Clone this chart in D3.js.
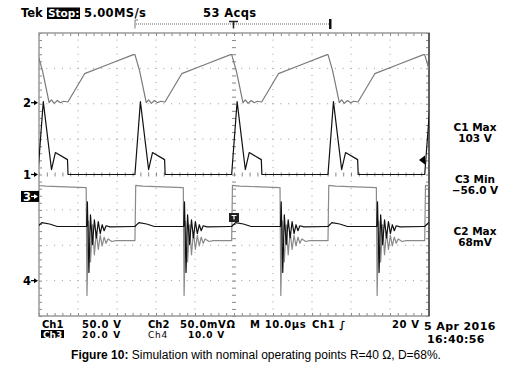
<!DOCTYPE html>
<html>
<head>
<meta charset="utf-8">
<script src="https://cdn.jsdelivr.net/npm/d3@7"></script>
<style>
  body { margin: 0; background: #fff; }
  svg { display: block; }
  .scope { font-family: "DejaVu Sans", sans-serif; font-weight: bold; }
</style>
</head>
<body>
<div id="chart"></div>
<script>
// horizontal: 10 div x 10 us
var timeDomain = [0, 100];
// rising edge of each switching cycle (us)
var cycleStarts = [-0.3, 24.6, 49.4, 74.1, 98.9];

// one cycle of each channel: [us after rising edge, value]
var ch1Cycle = [[0, 0], [1.4, 103], [3.5, 7], [4.5, 31], [7.6, 21], [7.75, 0], [24.5, 0]];            // V
var ch2Cycle = [[0, 68], [1.2, 45], [2.9, 0], [3.5, 4], [4.2, -1], [5.0, 3], [5.8, 0], [6.6, 2],
                [7.7, 1], [12, 41], [18, 54], [24.5, 68]];                                              // mV
var ch3Cycle = [[0, -25], [0.2, 6.2], [2, 5.8], [12.4, 5.0], [12.6, -56], [13.0, -14], [13.5, -37],
                [14.0, -16], [14.5, -33], [15.0, -20], [15.5, -30], [16.0, -22], [16.5, -28],
                [17.0, -23], [17.5, -26.5], [18.0, -24], [19.0, -25.5], [20.0, -25], [24.5, -25]];     // V
var ch4Cycle = [[0, 15.3], [1, 16.4], [3, 16.0], [5, 15.3], [12.5, 15.3], [12.7, 22.3], [13.1, 2.3],
                [13.5, 18.6], [14.0, 10.2], [14.5, 17.2], [15.0, 12.1], [15.5, 16.7], [16.0, 13.3],
                [16.5, 15.8], [17.0, 14.1], [17.5, 15.5], [18.5, 15.2], [24.5, 15.3]];                 // V

// volts (or mV) per division and ground marker position in divisions
var channelNames = ["Ch1", "Ch2", "Ch3", "Ch4"];
var channelScales = [50, 50, 20, 10];
var channelOffsets = [0, 2.03, -0.62, -3.0];

var topTexts = ["Tek", "Stop:", "5.00MS/s", "53 Acqs"];
var readouts = [["C1 Max", "103 V"], ["C3 Min", "\u221256.0 V"], ["C2 Max", "68mV"]];
var dateTexts = ["5 Apr 2016", "16:40:56"];

var W = 531, H = 373;
var svg = d3.select("#chart").append("svg").attr("width", W).attr("height", H);

var scrL = 39, scrR = 429, scrT = 33, scrB = 316;
var x = d3.scaleLinear().domain(timeDomain).range([scrL, scrR]);
var xDiv = d3.scaleLinear().domain([0, 10]).range([scrL, scrR]);
var yDiv = d3.scaleLinear().domain([-4, 4]).range([scrB, scrT]);

// ---- graticule
var grid = svg.append("g");
var minorX = d3.range(0, 10.001, 0.2), minorY = d3.range(-4, 4.001, 0.2);
[1, 2, 3, 4, 6, 7, 8, 9].forEach(function(i) {
  grid.selectAll(null).data(minorY).enter().append("rect")
    .attr("x", xDiv(i) - 0.5).attr("y", function(d) { return yDiv(d) - 0.5; })
    .attr("width", 1).attr("height", 1).attr("fill", "#9a9a9a");
});
[-3, -2, -1, 1, 2, 3].forEach(function(j) {
  grid.selectAll(null).data(minorX).enter().append("rect")
    .attr("x", function(d) { return xDiv(d) - 0.5; }).attr("y", yDiv(j) - 0.5)
    .attr("width", 1).attr("height", 1).attr("fill", "#9a9a9a");
});

function noDomain(g) { g.select(".domain").remove(); g.selectAll("line").attr("stroke", "#888"); }
// ticks along border and centre axes
grid.append("g").attr("transform", "translate(0," + scrT + ")")
  .call(d3.axisBottom(xDiv).tickValues(minorX).tickSize(3).tickFormat("")).call(noDomain);
grid.append("g").attr("transform", "translate(0," + scrB + ")")
  .call(d3.axisTop(xDiv).tickValues(minorX).tickSize(3).tickFormat("")).call(noDomain);
grid.append("g").attr("transform", "translate(" + scrL + ",0)")
  .call(d3.axisRight(yDiv).tickValues(minorY).tickSize(3).tickFormat("")).call(noDomain);
grid.append("g").attr("transform", "translate(" + scrR + ",0)")
  .call(d3.axisLeft(yDiv).tickValues(minorY).tickSize(3).tickFormat("")).call(noDomain);
grid.append("g").attr("transform", "translate(0," + (yDiv(0) - 2) + ")")
  .call(d3.axisBottom(xDiv).tickValues(minorX).tickSize(4).tickFormat("")).call(noDomain);
grid.append("g").attr("transform", "translate(" + (xDiv(5) - 2) + ",0)")
  .call(d3.axisRight(yDiv).tickValues(minorY).tickSize(4).tickFormat("")).call(noDomain);

grid.append("rect").attr("x", scrL).attr("y", scrT).attr("width", scrR - scrL).attr("height", scrB - scrT)
  .attr("fill", "none").attr("stroke", "#999").attr("stroke-width", 1.5);
grid.append("line").attr("x1", scrR).attr("x2", scrR).attr("y1", scrT).attr("y2", scrB)
  .attr("stroke", "#444").attr("stroke-width", 1.5);

// ---- traces
svg.append("clipPath").attr("id", "screen").append("rect")
  .attr("x", scrL).attr("y", scrT).attr("width", scrR - scrL).attr("height", scrB - scrT);

function buildTrace(cycle) {
  var pts = [];
  cycleStarts.forEach(function(s, i) {
    var next = i + 1 < cycleStarts.length ? cycleStarts[i + 1] : Infinity;
    cycle.forEach(function(p) {
      if (s + p[0] < next) pts.push([s + p[0], p[1]]);
    });
  });
  return pts;
}

var traceColors = ["#111", "#7a7a7a", "#8a8a8a", "#111"];
var cycles = [ch1Cycle, ch2Cycle, ch3Cycle, ch4Cycle];
var drawOrder = [1, 2, 3, 0];
var traces = svg.append("g").attr("clip-path", "url(#screen)");
drawOrder.forEach(function(c) {
  var line = d3.line()
    .x(function(d) { return x(d[0]); })
    .y(function(d) { return yDiv(channelOffsets[c] + d[1] / channelScales[c]); });
  traces.append("path").datum(buildTrace(cycles[c]))
    .attr("d", line).attr("fill", "none")
    .attr("stroke", traceColors[c]).attr("stroke-width", 1.2).attr("stroke-linejoin", "round");
});

// ---- ground markers
var markers = svg.append("g").attr("class", "scope").attr("font-size", 11.5);
channelOffsets.forEach(function(o, i) {
  var yy = yDiv(o);
  var inverted = i === 2;
  if (inverted) markers.append("rect").attr("x", 21).attr("y", yy - 5.5).attr("width", 18).attr("height", 11).attr("fill", "#000");
  var col = inverted ? "#fff" : "#000";
  markers.append("text").attr("x", 23).attr("y", yy + 4.2).attr("fill", col).text(String(i + 1));
  markers.append("line").attr("x1", 31).attr("x2", 36).attr("y1", yy).attr("y2", yy).attr("stroke", col).attr("stroke-width", 1.2);
  markers.append("path").attr("d", "M34," + (yy - 2.5) + "L38," + yy + "L34," + (yy + 2.5) + "Z").attr("fill", col);
});

// trigger level arrow and trigger marker
svg.append("path").attr("d", "M419,160L425,155.5L425,164.5Z").attr("fill", "#000");
svg.append("rect").attr("x", xDiv(5) - 5).attr("y", 213).attr("width", 10).attr("height", 9).attr("fill", "#222");
svg.append("path").attr("d", "M" + (xDiv(5) - 2.5) + ",215.5h5M" + xDiv(5) + ",215.5v4")
  .attr("stroke", "#fff").attr("stroke-width", 1.2);

// ---- header
var hdr = svg.append("g").attr("class", "scope").attr("font-size", 11.5);
hdr.append("text").attr("x", 21).attr("y", 17).text(topTexts[0]);
hdr.append("rect").attr("x", 47).attr("y", 7.5).attr("width", 33).attr("height", 11.5).attr("fill", "#000");
hdr.append("text").attr("x", 48).attr("y", 17).attr("fill", "#fff").attr("font-size", 10.5).text(topTexts[1]);
hdr.append("text").attr("x", 84).attr("y", 17).attr("letter-spacing", 0.4).text(topTexts[2]);
hdr.append("text").attr("x", 203).attr("y", 17).attr("letter-spacing", 0.4).text(topTexts[3]);

// record window bar
svg.append("line").attr("x1", 136).attr("x2", 330).attr("y1", 24).attr("y2", 24)
  .attr("stroke", "#999").attr("stroke-width", 1.5).attr("stroke-dasharray", "1,1");
svg.append("path").attr("d", "M138,20H135V28.5").attr("fill", "none").attr("stroke", "#777").attr("stroke-width", 1);
svg.append("rect").attr("x", 329).attr("y", 19).attr("width", 2.5).attr("height", 10).attr("fill", "#111");
svg.append("path").attr("d", "M229,21.5H238M233.5,21.5V28.5").attr("stroke", "#222").attr("stroke-width", 1.5);

// ---- readouts on the right
var ro = svg.append("g").attr("class", "scope").attr("font-size", 10.5).attr("text-anchor", "middle");
var roY = [131, 183, 235];
readouts.forEach(function(r, i) {
  ro.append("text").attr("x", 475).attr("y", roY[i]).text(r[0]);
  ro.append("text").attr("x", 475).attr("y", roY[i] + 11).text(r[1]);
});

// ---- footer settings
var ft = svg.append("g").attr("class", "scope").attr("font-size", 10);
function ftext(tx, ty, s, fill) { return ft.append("text").attr("x", tx).attr("y", ty).attr("fill", fill || "#000").text(s); }
ftext(42, 328, channelNames[0]);
ftext(82, 328, channelScales[0] + ".0 V").attr("letter-spacing", 0.6);
ftext(148, 328, channelNames[1]);
ftext(180, 328, channelScales[1] + ".0mV\u03a9").attr("letter-spacing", 0.6);
ftext(250, 328, "M 10.0\u00b5s").attr("letter-spacing", 0.6);
ftext(312, 328, channelNames[0] + " \u222b").attr("letter-spacing", 0.6);
ftext(392, 328, "20 V").attr("letter-spacing", 0.6);
ft.append("rect").attr("x", 41).attr("y", 330).attr("width", 23).attr("height", 8).attr("fill", "#000");
ftext(43, 337.5, channelNames[2], "#fff").attr("font-size", 9);
ftext(82, 337.5, channelScales[2] + ".0 V").attr("font-size", 9).attr("letter-spacing", 1.2);
ftext(148, 337.5, channelNames[3]).attr("font-size", 9).attr("font-weight", "normal").attr("letter-spacing", 0.8);
ftext(188, 337.5, channelScales[3] + ".0 V").attr("font-size", 9).attr("letter-spacing", 0.8);
ftext(424, 330, dateTexts[0]).attr("font-size", 11).attr("letter-spacing", 0.4);
ftext(427, 343, dateTexts[1]).attr("font-size", 11).attr("letter-spacing", 0.4);

// ---- caption
var cap = svg.append("text").attr("x", 256).attr("y", 359).attr("text-anchor", "middle")
  .attr("font-family", "'Liberation Sans', Arial, sans-serif").attr("font-size", 12);
cap.append("tspan").attr("font-weight", "bold").text("Figure 10:");
cap.append("tspan").text(" Simulation with nominal operating points R=40 \u03a9, D=68%.");
</script>
</body>
</html>
